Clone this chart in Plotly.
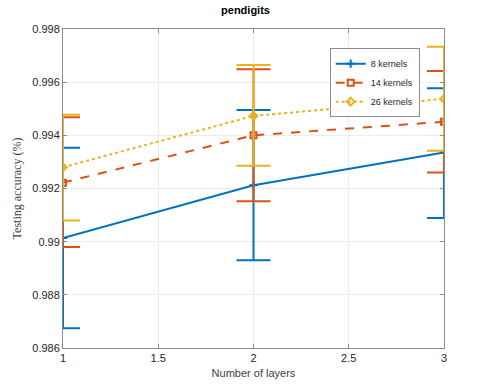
import plotly.graph_objects as go

layers = [1, 2, 3]

# mean accuracy per series, with upper / lower error bar ends
k8_mean = [0.99014, 0.99212, 0.99335]
k8_upper = [0.99353, 0.99495, 0.99577]
k8_lower = [0.98674, 0.98930, 0.99089]

k14_mean = [0.99222, 0.99400, 0.99451]
k14_upper = [0.99468, 0.99649, 0.99642]
k14_lower = [0.98980, 0.99152, 0.99260]

k26_mean = [0.99280, 0.99473, 0.99537]
k26_upper = [0.99477, 0.99665, 0.99733]
k26_lower = [0.99080, 0.99286, 0.99342]

x_ticks = [1, 1.5, 2, 2.5, 3]
y_ticks = [0.986, 0.988, 0.99, 0.992, 0.994, 0.996, 0.998]
y_ticktext = ['0.986', '0.988', '0.99', '0.992', '0.994', '0.996', '0.998']

series = [
    ('8 kernels', k8_mean, k8_upper, k8_lower, '#0072BD', 'solid', 'cross-thin-open'),
    ('14 kernels', k14_mean, k14_upper, k14_lower, '#D95319', 'dash', 'square-open'),
    ('26 kernels', k26_mean, k26_upper, k26_lower, '#EDB120', 'dot', 'diamond-open'),
]

fig = go.Figure()

for name, mean, upper, lower, color, dash, symbol in series:
    fig.add_trace(go.Scatter(
        x=layers,
        y=mean,
        name=name,
        mode='lines+markers',
        line=dict(color=color, width=2, dash=dash),
        marker=dict(symbol=symbol, size=6, color=color, line=dict(color=color, width=2)),
        error_y=dict(
            type='data',
            symmetric=False,
            array=[u - m for u, m in zip(upper, mean)],
            arrayminus=[m - l for m, l in zip(mean, lower)],
            color=color,
            thickness=2,
            width=17,
        ),
    ))

axis_font = dict(family='Liberation Sans, Arial, sans-serif', size=11, color='#262626')

fig.update_layout(
    width=491,
    height=392,
    paper_bgcolor='white',
    plot_bgcolor='white',
    margin=dict(l=63, r=47, t=29, b=44),
    title=dict(text='<b>pendigits</b>', x=0.5, xanchor='center', y=0.974, yanchor='middle',
               font=dict(family='Liberation Sans, Arial, sans-serif', size=11, color='black')),
    showlegend=True,
    legend=dict(
        x=0.70, y=0.94, xanchor='left', yanchor='top',
        bgcolor='white', bordercolor='#8c8c8c', borderwidth=1,
        font=dict(family='Liberation Sans, Arial, sans-serif', size=9, color='#262626'),
        tracegroupgap=0, itemwidth=30,
    ),
)

fig.update_xaxes(
    range=[1, 3],
    tickvals=x_ticks,
    ticktext=[str(v) for v in x_ticks],
    showgrid=True, gridcolor='#ebebeb', gridwidth=1,
    showline=True, linecolor='#8c8c8c', linewidth=1, mirror='ticks',
    ticks='inside', ticklen=4, tickcolor='#8c8c8c',
    tickfont=axis_font, zeroline=False,
    title=dict(text='Number of layers', standoff=6,
               font=dict(family='Liberation Sans, Arial, sans-serif', size=11, color='#404040')),
)

fig.update_yaxes(
    range=[0.986, 0.998],
    tickvals=y_ticks,
    ticktext=y_ticktext,
    showgrid=True, gridcolor='#ebebeb', gridwidth=1,
    showline=True, linecolor='#8c8c8c', linewidth=1, mirror='ticks',
    ticks='inside', ticklen=4, tickcolor='#8c8c8c',
    tickfont=axis_font, zeroline=False,
    title=dict(text='Testing accuracy (%)', standoff=8,
               font=dict(family='Liberation Serif, DejaVu Serif, serif', size=12, color='#404040')),
)

# drop the default page margin so the figure fills the window from its corner
fig.write_html("out.html", config={'displayModeBar': False},
               post_script="document.body.style.margin='0';")
